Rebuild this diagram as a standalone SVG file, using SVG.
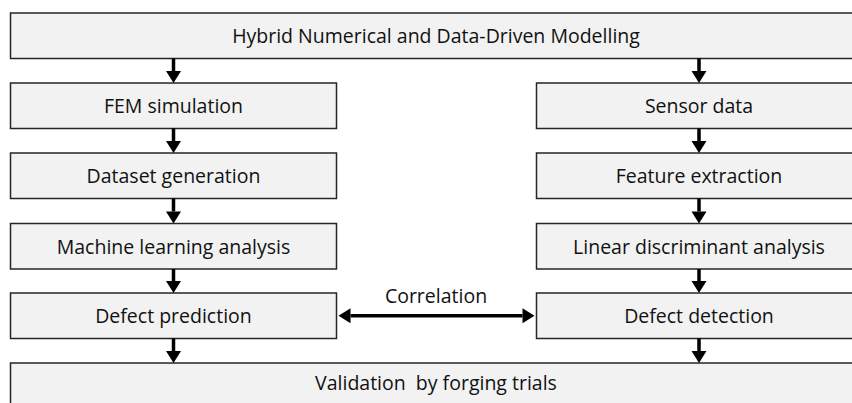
<svg xmlns="http://www.w3.org/2000/svg" width="852" height="403" viewBox="0 0 852 403">
  <style>
    .box { fill: #f2f2f2; stroke: #262626; stroke-width: 1.5; }
    .lbl { font-family: "Open Sans", "Noto Sans", sans-serif; font-size: 19.5px; fill: #111; text-anchor: middle; }
    .flow { stroke: #000; stroke-width: 3.5; fill: none; }
  </style>
  <defs>
    <marker id="head" viewBox="0 -8 13 16" refX="0" refY="0" markerWidth="13" markerHeight="16" markerUnits="userSpaceOnUse" orient="auto-start-reverse" overflow="visible">
      <path d="M0,-7.5 L12,0 L0,7.5 z" fill="#000"/>
    </marker>
  </defs>

  <!-- top box -->
  <g id="hybrid">
    <rect class="box" x="10.5" y="13" width="860" height="45.5"/>
    <text class="lbl" x="436" y="43.3">Hybrid Numerical and Data-Driven Modelling</text>
  </g>

  <!-- numerical branch -->
  <g id="fem">
    <rect class="box" x="10.5" y="83" width="326" height="45.5"/>
    <text class="lbl" x="173.5" y="113.3">FEM simulation</text>
  </g>
  <g id="dataset">
    <rect class="box" x="10.5" y="153" width="326" height="45.5"/>
    <text class="lbl" x="173.5" y="183.3">Dataset generation</text>
  </g>
  <g id="ml">
    <rect class="box" x="10.5" y="223.5" width="326" height="45.5"/>
    <text class="lbl" x="173.5" y="253.8">Machine learning analysis</text>
  </g>
  <g id="prediction">
    <rect class="box" x="10.5" y="293" width="326" height="45.5"/>
    <text class="lbl" x="173.5" y="323.3">Defect prediction</text>
  </g>

  <!-- data-driven branch -->
  <g id="sensor">
    <rect class="box" x="536.5" y="83" width="330" height="45.5"/>
    <text class="lbl" x="699" y="113.3">Sensor data</text>
  </g>
  <g id="features">
    <rect class="box" x="536.5" y="153" width="330" height="45.5"/>
    <text class="lbl" x="699" y="183.3">Feature extraction</text>
  </g>
  <g id="lda">
    <rect class="box" x="536.5" y="223.5" width="330" height="45.5"/>
    <text class="lbl" x="699" y="253.8">Linear discriminant analysis</text>
  </g>
  <g id="detection">
    <rect class="box" x="536.5" y="293" width="330" height="45.5"/>
    <text class="lbl" x="699" y="323.3">Defect detection</text>
  </g>

  <!-- bottom box -->
  <g id="validation">
    <rect class="box" x="10.5" y="363" width="860" height="60"/>
    <text class="lbl" x="436" y="390" xml:space="preserve">Validation  by forging trials</text>
  </g>

  <!-- connectors -->
  <g id="connectors">
    <line class="flow" x1="173.5" y1="58.5" x2="173.5" y2="71" marker-end="url(#head)"/>
    <line class="flow" x1="173.5" y1="128.5" x2="173.5" y2="141" marker-end="url(#head)"/>
    <line class="flow" x1="173.5" y1="198.5" x2="173.5" y2="211.5" marker-end="url(#head)"/>
    <line class="flow" x1="173.5" y1="269" x2="173.5" y2="281" marker-end="url(#head)"/>
    <line class="flow" x1="173.5" y1="338.5" x2="173.5" y2="351" marker-end="url(#head)"/>

    <line class="flow" x1="699" y1="58.5" x2="699" y2="71" marker-end="url(#head)"/>
    <line class="flow" x1="699" y1="128.5" x2="699" y2="141" marker-end="url(#head)"/>
    <line class="flow" x1="699" y1="198.5" x2="699" y2="211.5" marker-end="url(#head)"/>
    <line class="flow" x1="699" y1="269" x2="699" y2="281" marker-end="url(#head)"/>
    <line class="flow" x1="699" y1="338.5" x2="699" y2="351" marker-end="url(#head)"/>

    <line class="flow" x1="350.5" y1="315.7" x2="522.5" y2="315.7" marker-start="url(#head)" marker-end="url(#head)"/>
    <text class="lbl" x="436" y="302.5">Correlation</text>
  </g>
</svg>
